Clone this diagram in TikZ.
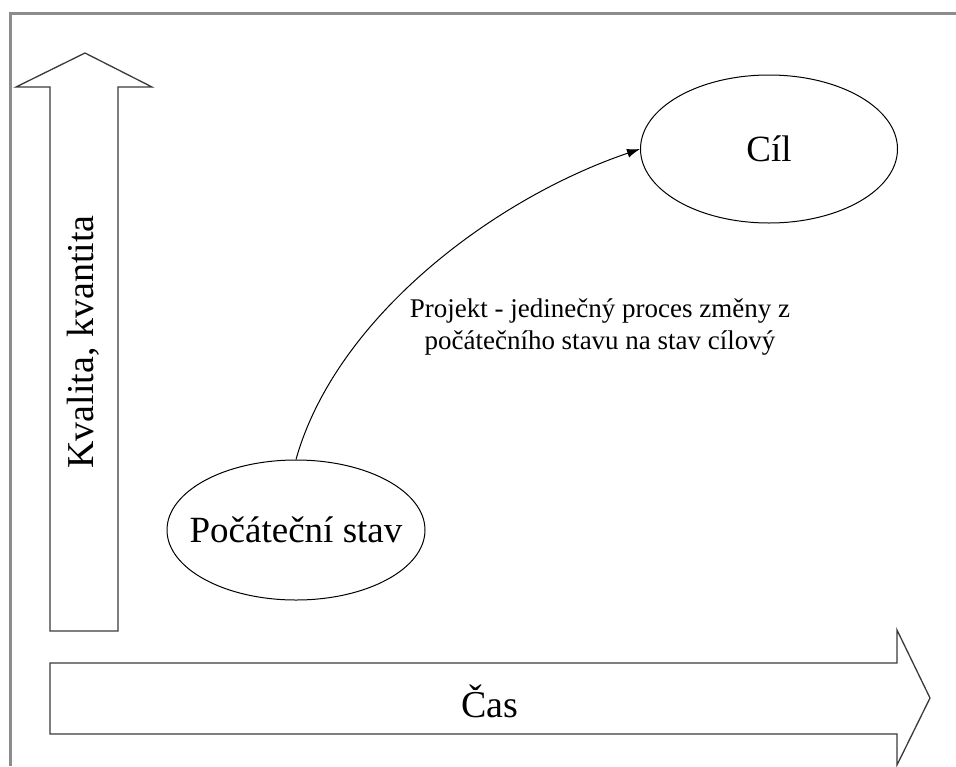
\documentclass[tikz,border=0pt]{standalone}
\usepackage{fontspec}
\setmainfont{Liberation Serif}
\usetikzlibrary{arrows.meta,shapes.geometric}
\definecolor{framegray}{HTML}{8C8C8C}
\definecolor{edgegray}{HTML}{3A3A3A}
\tikzset{
  framestyle/.style={draw=framegray,line width=3pt},
  bigarrow/.style={draw=edgegray,line width=1.3pt,fill=white,line join=miter},
  statebox/.style={ellipse,draw=black,line width=1pt,inner sep=0pt,font=\fontsize{37}{40}\selectfont},
  biglabel/.style={font=\fontsize{38}{40}\selectfont,inner sep=0pt},
  smalllabel/.style={font=\fontsize{27}{32}\selectfont,align=center,inner sep=0pt},
  flow/.style={draw=black,line width=1pt,-{Latex[length=13pt,width=9pt]}}
}
\begin{document}
\begin{tikzpicture}[x=1pt,y=-1pt]
\useasboundingbox (0,0) rectangle (956,766);
% frame (cropped)
\draw[framestyle] (10,766) -- (10,13) -- (956,13);
% vertical arrow
\draw[bigarrow] (50,631) -- (50,87) -- (16,87) -- (85,53) -- (152,87) -- (118,87) -- (118,631) -- cycle;
\node[biglabel,rotate=90] (kval) at (83,342) {Kvalita, kvantita};
% horizontal arrow
\draw[bigarrow] (50,663) -- (897,663) -- (897,630) -- (930,698) -- (897,765) -- (897,734) -- (50,734) -- cycle;
\node[biglabel] (cas) at (490,701) {Čas};
% states
\node[statebox,minimum width=258pt,minimum height=140pt] (poc) at (296,530) {\makebox[0pt]{Počáteční stav}};
\node[statebox,minimum width=257pt,minimum height=148pt] (cil) at (769,149) {\makebox[0pt]{Cíl}};
% project curve
\draw[flow] (poc.north) .. controls (335,320) and (490,200) .. (cil.west);
\node[smalllabel] (proj) at (600,327) {Projekt - jedinečný proces změny z\\počátečního stavu na stav cílový};
\end{tikzpicture}
\end{document}
